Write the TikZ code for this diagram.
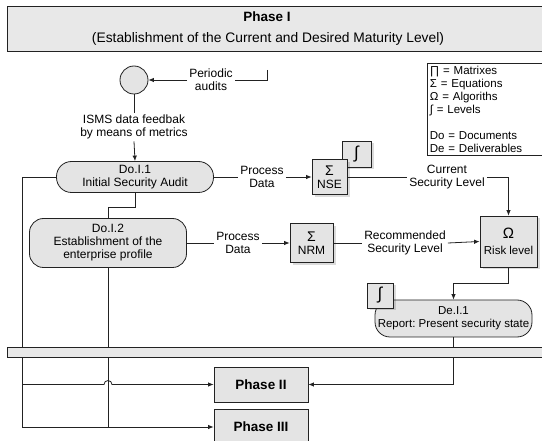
\documentclass[tikz,border=0pt]{standalone}
\usepackage{fontspec}
\setmainfont{Liberation Sans}
\usetikzlibrary{arrows.meta,shadows,calc}
\frenchspacing

\definecolor{boxfill}{HTML}{E4E4E4}
\definecolor{hdrfill}{HTML}{E8E8E8}
\definecolor{ink}{HTML}{222222}

\tikzset{
  txt/.style={font=\fontsize{12}{13}\selectfont},
  small/.style={font=\fontsize{11.5}{13}\selectfont},
  lbl/.style={txt, align=center, inner sep=2pt},
  wire/.style={draw=ink, line width=0.8pt},
  arr/.style={wire, -{Latex[length=5.5pt,width=4.5pt]}},
  shade/.style={drop shadow={shadow xshift=2.5pt, shadow yshift=-2.5pt, opacity=0.14, fill=black}},
  proc/.style={draw=ink, line width=0.8pt, fill=boxfill, txt, align=center, inner sep=0pt},
  opbox/.style={proc, shade},
  lvlbox/.style={opbox, font=\fontsize{17}{17}\selectfont},
  phasebox/.style={proc, font=\fontsize{13.5}{15}\selectfont\bfseries}
}

\begin{document}
\begin{tikzpicture}[x=1pt,y=-1pt]
\useasboundingbox (0,0) rectangle (542,441);
\clip (0,0) rectangle (542,441);

% title block
\node[proc, anchor=north west, minimum width=540, minimum height=45, fill=hdrfill] (hdr) at (7,6) {};
\node[font=\fontsize{13.5}{15}\selectfont\bfseries] (title) at (267,17) {Phase I};
\node[font=\fontsize{13.8}{15}\selectfont] (subtitle) at (268,39) {(Establishment of the Current and Desired Maturity Level)};

% legend
\node[draw=ink, line width=0.8pt, fill=white, anchor=north west, small, align=left,
      text width=112, inner xsep=2.5pt, inner ysep=0pt, minimum height=92] (legend) at (427,63)
  {∏ = Matrixes\\Σ = Equations\\Ω = Algoriths\\∫ = Levels\\[13pt]Do = Documents\\De = Deliverables};

% start point and audit input
\node[circle, draw=ink, line width=0.8pt, fill=boxfill, minimum size=28, inner sep=0pt] (src) at (134,80) {};
\node[lbl] (per) at (211,80) {Periodic\\audits};
\coordinate (tick) at (267,70);
\node[lbl] (isms) at (134,127) {ISMS data feedbak\\by means of metrics};

% documents
\node[proc, minimum width=157, minimum height=31, rounded corners=15] (Do1) at (135,177) {Do.I.1\\Initial Security Audit};
\node[proc, minimum width=157, minimum height=49, rounded corners=14] (Do2) at (108,243) {Do.I.2\\Establishment of the\\enterprise profile};

% equations and levels
\node[lvlbox, minimum width=29, minimum height=26] (lvlN) at (356.5,154) {∫};
\node[opbox, minimum width=35, minimum height=35] (NSE) at (329.5,177) {{\fontsize{14}{14}\selectfont Σ}\\NSE};
\node[opbox, minimum width=43, minimum height=39] (NRM) at (311.5,243) {{\fontsize{14}{14}\selectfont Σ}\\NRM};
\node[opbox, minimum width=57, minimum height=51] (Risk) at (508.5,241.5) {{\fontsize{15}{15}\selectfont Ω}\\[3pt]{\fontsize{11.5}{13}\selectfont Risk level}};

% deliverable
\node[proc, small, minimum width=157, minimum height=37, rounded corners=15] (De) at (453.5,318.5) {De.I.1\\Report: Present security state};
\node[lvlbox, minimum width=26, minimum height=25] (lvlD) at (380,295.5) {∫};

% connector labels
\node[lbl] (pd1) at (262,177) {Process\\Data};
\node[lbl] (pd2) at (238,243) {Process\\Data};
\node[lbl] (csl) at (447,177) {Current\\Security Level};
\node[lbl] (rsl) at (405,243) {Recommended\\Security Level};

% phases
\node[phasebox, minimum width=94, minimum height=35] (P2) at (261,384.5) {Phase II};
\node[phasebox, minimum width=94, minimum height=36] (P3) at (261,427) {Phase III};

% connectors
\draw[wire] (tick) |- (per.east);
\draw[arr] (per.west) -- (src.east);
\draw[wire] (src.south) -- (isms.north);
\draw[arr] (isms.south) -- (Do1.north);
\draw[wire] (Do1.south) -- ++(0,15) -| (Do2.north);

\draw[wire] (Do1.east) -- (pd1.west);
\draw[arr] (pd1.east) -- (NSE.west);
\draw[wire] (NSE.east) -- (csl.west);
\draw[arr] (csl.east) -| (Risk.north);

\draw[wire] (Do2.east) -- (pd2.west);
\draw[arr] (pd2.east) -- (NRM.west);
\draw[wire] (NRM.east) -- (rsl.west);
\draw[arr] (rsl.east) -- (Risk.west);

\draw[arr] (Risk.south) -- ++(0,16) -| (De.north);
\draw[arr] (De.south) |- (P2.east);

\coordinate (rail) at (22,0);
\draw[arr] (Do1.west) -| (rail |- P3.west) -- (P3.west);
\draw[wire] (Do2.south) -- (Do2.south |- P3.west);
\draw[arr] (rail |- P2.west) -- ($(Do2.south |- P2.west)+(-4,0)$) arc (180:360:4) -- (P2.west);

% separator band
\draw[wire, fill=hdrfill] (7,347) rectangle (547,357);
\end{tikzpicture}
\end{document}
